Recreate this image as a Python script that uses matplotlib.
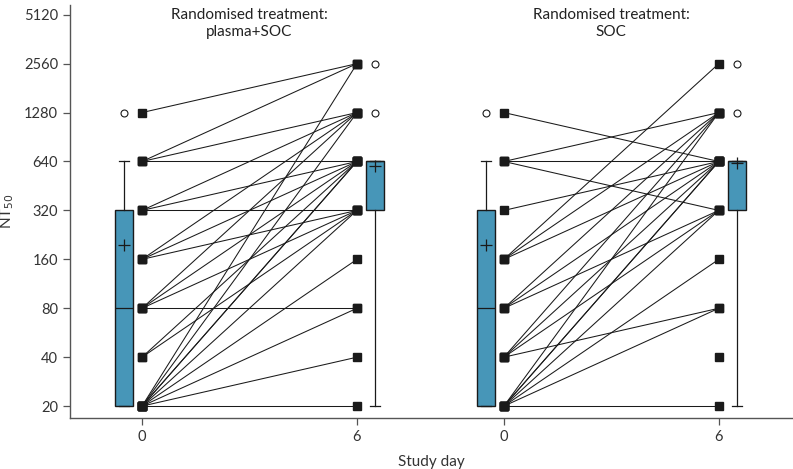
import matplotlib
matplotlib.use("Agg")
import matplotlib.pyplot as plt

plt.rcParams['font.family'] = ['Lato', 'DejaVu Sans']

# ---- paired data (NT50 per patient: day 0 -> day 6) ----
plasma_day0 = [1280, 640, 640, 640, 320, 320, 320, 160, 160, 160,
               80, 80, 80, 80, 40, 40,
               20, 20, 20, 20, 20, 20, 20, 20, 20]
plasma_day6 = [2560, 2560, 1280, 640, 1280, 640, 320, 1280, 640, 320,
               1280, 640, 320, 80, 640, 320,
               20, 40, 80, 160, 320, 640, 640, 1280, 2560]
plasma_day6_unpaired = []

soc_day0 = [1280, 640, 640, 640, 320, 160, 160, 160,
            80, 80, 80, 40, 40, 40, 40,
            20, 20, 20, 20, 20, 20, 20]
soc_day6 = [640, 1280, 640, 320, 640, 2560, 1280, 640,
            1280, 640, 320, 1280, 640, 320, 80,
            20, 80, 160, 320, 640, 640, 1280]
soc_day6_unpaired = [40]

# ---- box-plot summaries (whislo, q1, median, q3, whishi, mean) ----
plasma_box_day0 = dict(whislo=20, q1=20, med=80, q3=320, whishi=640, mean=196, fliers=[1280])
plasma_box_day6 = dict(whislo=20, q1=320, med=640, q3=640, whishi=640, mean=602, fliers=[1280, 2560])
soc_box_day0 = dict(whislo=20, q1=20, med=80, q3=320, whishi=640, mean=196, fliers=[1280])
soc_box_day6 = dict(whislo=20, q1=320, med=640, q3=640, whishi=640, mean=622, fliers=[1280, 2560])

panel_titles = ["Randomised treatment:\nplasma+SOC", "Randomised treatment:\nSOC"]
day_labels = ["0", "6", "0", "6"]
y_ticks = [20, 40, 80, 160, 320, 640, 1280, 2560, 5120]

# ---- layout ----
W, H = 793, 469
fig = plt.figure(figsize=(W / 100, H / 100), dpi=100)
ax = fig.add_axes([70 / W, (H - 418) / H, (W - 70) / W, (418 - 5) / H])

ink = "#1a1a1a"
box_color = "#4796b8"
offsets = [0.0, 10.1]
panels = [
    (plasma_day0, plasma_day6, plasma_day6_unpaired, plasma_box_day0, plasma_box_day6),
    (soc_day0, soc_day6, soc_day6_unpaired, soc_box_day0, soc_box_day6),
]

for off, (d0, d6, d6u, b0, b6) in zip(offsets, panels):
    x0, x6 = off + 0, off + 6
    for a, b in zip(d0, d6):
        ax.plot([x0, x6], [a, b], color=ink, lw=0.75, zorder=2)
    ax.plot([x0] * len(d0), d0, ls="none", marker="s", ms=5.5,
            color=ink, zorder=3)
    all6 = list(d6) + list(d6u)
    ax.plot([x6] * len(all6), all6, ls="none", marker="s", ms=5.5,
            color=ink, zorder=3)
    bp = ax.bxp([b0, b6], positions=[x0 - 0.5, x6 + 0.5], widths=0.5,
                patch_artist=True, showmeans=True, capwidths=0.28,
                manage_ticks=False,
                boxprops=dict(facecolor=box_color, edgecolor=ink, lw=1.0),
                medianprops=dict(color=ink, lw=0.9),
                whiskerprops=dict(color=ink, lw=0.9),
                capprops=dict(color=ink, lw=0.9),
                meanprops=dict(marker="+", markeredgecolor=ink,
                               markersize=8, markeredgewidth=0.9),
                flierprops=dict(marker="o", markerfacecolor="white",
                                markeredgecolor=ink, markersize=5,
                                markeredgewidth=0.8))
    for p in bp["boxes"]:
        p.set_zorder(1)

ax.set_yscale("log", base=2)
ax.set_ylim(16.9, 5875)
ax.set_yticks(y_ticks)
ax.set_yticklabels([str(v) for v in y_ticks])
ax.yaxis.set_minor_locator(matplotlib.ticker.NullLocator())
ax.set_xlim(-2.01, 18.17)
ax.set_xticks([0, 6, offsets[1], offsets[1] + 6])
ax.set_xticklabels(day_labels)

for s in ["top", "right"]:
    ax.spines[s].set_visible(False)
for s in ["left", "bottom"]:
    ax.spines[s].set_color("#555555")
    ax.spines[s].set_linewidth(1.0)
ax.tick_params(axis="both", colors="#333333", labelsize=10.5, length=5,
               width=0.9, direction="out")
ax.tick_params(axis="both", color="#555555")

ax.set_xlabel("Study day", fontsize=11, color="#333333", labelpad=8)
ax.set_ylabel("NT$_{50}$", fontsize=11, color="#333333")
ax.yaxis.set_label_coords(-0.074, 0.5)

for off, t in zip(offsets, panel_titles):
    ax.text(off + 3, 0.955, t, transform=ax.get_xaxis_transform(),
            ha="center", va="center", fontsize=11, color="#222222",
            linespacing=1.25)

fig.savefig("out.png", dpi=100)
